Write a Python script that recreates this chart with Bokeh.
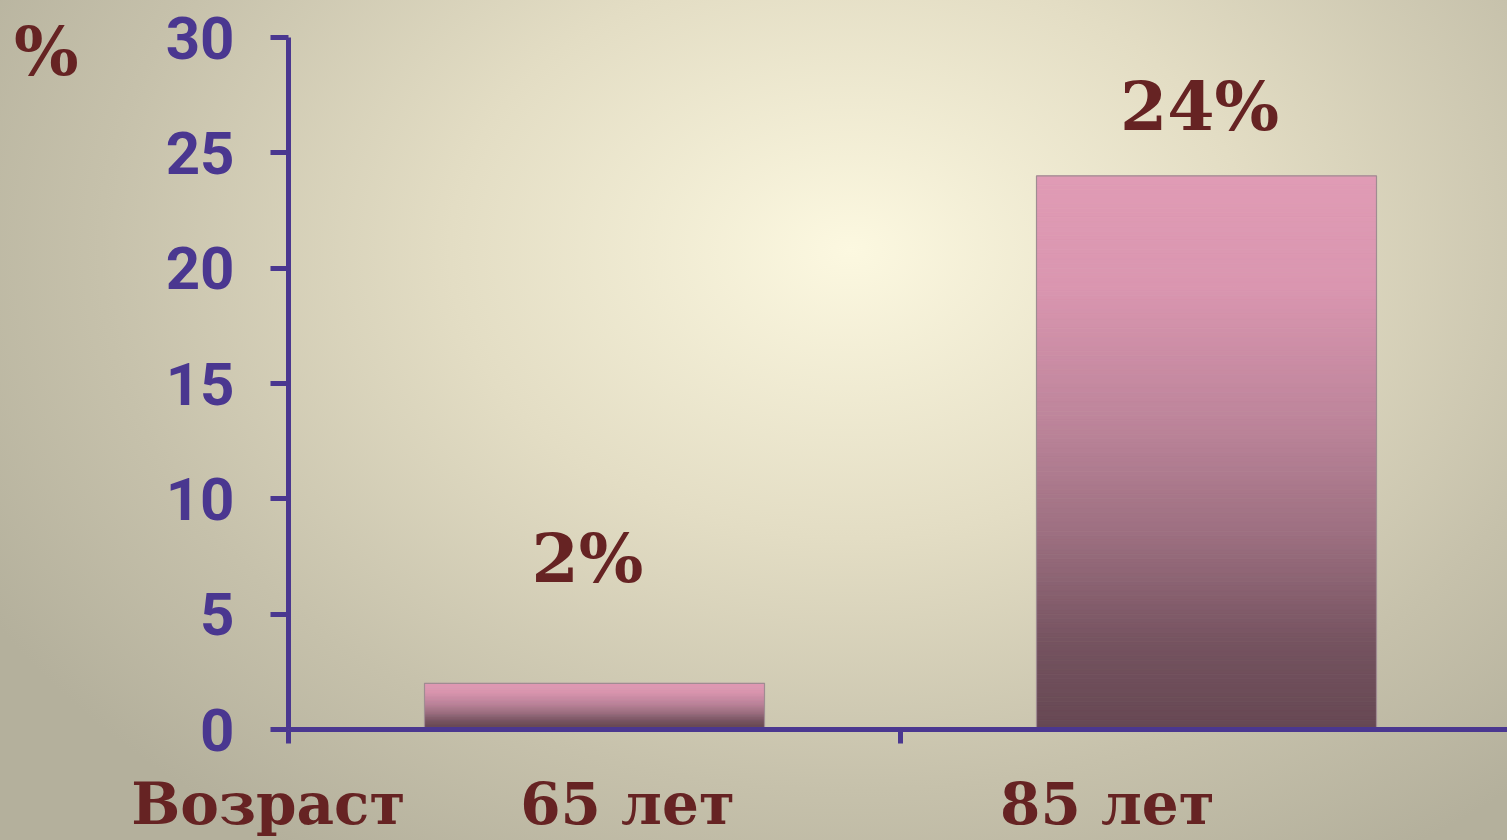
import numpy as np
from bokeh.plotting import figure
from bokeh.models import Label, FixedTicker, Range1d, LinearAxis
from bokeh.embed import file_html
from bokeh.resources import INLINE

# ---- data ----
categories = ["65 лет", "85 лет"]
values = [2, 24]
value_labels = ["2%", "24%"]
y_ticks = [0, 5, 10, 15, 20, 25, 30]
axis_title = "Возраст"
unit_label = "%"

# ---- layout ----
W, H = 1507, 840
LEFT, TOP, BOTTOM = 288, 37, 111
frame_w = W - LEFT
frame_h = H - TOP - BOTTOM
cat_px = 612.0
x_end = frame_w / cat_px
y_end = 30
ppu = frame_h / y_end

AXIS_COLOR = "#4a3790"
TEXT_COLOR = "#662323"
SERIF = "DejaVu Serif"

p = figure(width=W, height=H, x_range=Range1d(0, x_end), y_range=Range1d(0, y_end),
           output_backend="svg", toolbar_location=None,
           min_border_left=LEFT, min_border_top=TOP, min_border_bottom=BOTTOM,
           min_border_right=0)
p.background_fill_color = None
p.border_fill_color = None
p.outline_line_color = None
p.xgrid.visible = False
p.ygrid.visible = False
p.styles = {"background-image": "radial-gradient(ellipse 1000px 720px at 850px 250px, "
            "#fcf8e0 0%, #e3ddc4 40%, #c6c1ab 75%, #b4b09c 100%)"}

# ---- gradient bars ----
stops_t = [0.0, 0.2, 0.45, 0.65, 0.85, 1.0]
stops_c = ["#e09bb5", "#da96b0", "#bc849a", "#9c6f80", "#74525f", "#664853"]


def hex2rgb(h):
    h = h.lstrip("#")
    return np.array([int(h[i:i + 2], 16) for i in (0, 2, 4)], dtype=float)


rgb = np.array([hex2rgb(c) for c in stops_c])


def grad(t):
    return "#%02x%02x%02x" % tuple(int(round(np.interp(t, stops_t, rgb[:, k]))) for k in range(3))


bar_w = 340 / cat_px
N = 120
L, R, B, T, C = [], [], [], [], []
for i, v in enumerate(values):
    xc = i + 0.5
    edges = np.linspace(v, 0, N + 1)
    for j in range(N):
        L.append(xc - bar_w / 2)
        R.append(xc + bar_w / 2)
        T.append(edges[j])
        B.append(edges[j + 1])
        C.append(grad((j + 0.5) / N))
p.quad(left=L, right=R, bottom=B, top=T, fill_color=C, line_color=C, line_width=0.8)
p.vbar(x=[i + 0.5 for i in range(len(values))], top=values, width=bar_w,
       fill_color=None, line_color="#a08c92", line_width=1.2)

# ---- y axis ----
p.yaxis.ticker = FixedTicker(ticks=y_ticks)
p.yaxis.axis_line_color = AXIS_COLOR
p.yaxis.axis_line_width = 5
p.yaxis.major_tick_line_color = AXIS_COLOR
p.yaxis.major_tick_line_width = 5
p.yaxis.major_tick_out = 18
p.yaxis.major_tick_in = 0
p.yaxis.minor_tick_line_color = None
p.yaxis.major_label_standoff = 36
p.yaxis.major_label_text_font = "Roboto"
p.yaxis.major_label_text_font_style = "bold"
p.yaxis.major_label_text_font_size = "60px"
p.yaxis.major_label_text_color = AXIS_COLOR

# unit label "%" as an outer left axis
pct_pos = 29.4
unit_axis = LinearAxis(ticker=FixedTicker(ticks=[pct_pos]),
                       major_label_overrides={pct_pos: unit_label},
                       axis_line_color=None, major_tick_line_color=None,
                       minor_tick_line_color=None, major_tick_out=0, major_tick_in=0,
                       major_label_standoff=84,
                       major_label_text_font=SERIF, major_label_text_font_style="bold",
                       major_label_text_font_size="68px", major_label_text_color=TEXT_COLOR)
p.add_layout(unit_axis, "left")

# ---- x axis: boundary ticks (minor) + category labels (major) ----
nb = "\u00a0"
cat_pos = [0.0, 0.554, 1.338]
cat_text = [axis_title + nb * 2] + categories
p.xaxis.ticker = FixedTicker(ticks=cat_pos, minor_ticks=list(range(len(categories) + 1)))
p.xaxis.major_label_overrides = {k: t for k, t in zip(cat_pos, cat_text)}
p.xaxis.axis_line_color = AXIS_COLOR
p.xaxis.axis_line_width = 5
p.xaxis.major_tick_line_color = None
p.xaxis.major_tick_out = 0
p.xaxis.major_tick_in = 0
p.xaxis.minor_tick_line_color = AXIS_COLOR
p.xaxis.minor_tick_line_width = 5
p.xaxis.minor_tick_out = 14
p.xaxis.minor_tick_in = 0
p.xaxis.major_label_standoff = 26
p.xaxis.major_label_text_line_height = 1.0
p.xaxis.major_label_text_font = SERIF
p.xaxis.major_label_text_font_style = "bold"
p.xaxis.major_label_text_font_size = "58px"
p.xaxis.major_label_text_color = TEXT_COLOR

# ---- value labels ----
value_gap_px = [125, 70]
for i, (v, s) in enumerate(zip(values, value_labels)):
    p.add_layout(Label(x=i + 0.5, y=v + value_gap_px[i] / ppu, text=s, x_offset=-7,
                       text_align="center", text_baseline="alphabetic",
                       text_font=SERIF, text_font_style="bold", text_font_size="68px",
                       text_color=TEXT_COLOR))

open("out.html", "w").write(file_html(p, INLINE))
